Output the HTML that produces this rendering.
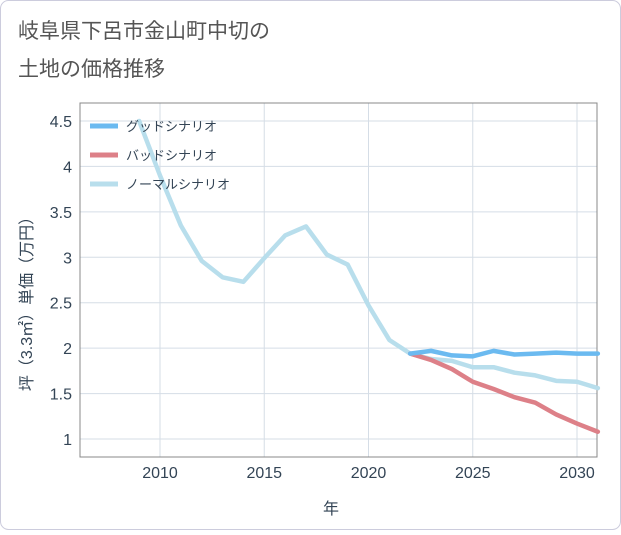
<!DOCTYPE html>
<html><head><meta charset="utf-8"><style>
body{margin:0;background:#fff;}
#c{position:relative;width:621px;height:530px;font-family:"Liberation Sans","Noto Sans CJK JP",sans-serif;}
</style></head><body>
<div id="c">
<svg id="s" width="621" height="530" xmlns="http://www.w3.org/2000/svg">
<rect x="0.5" y="0.5" width="620" height="529" rx="8" fill="#fff" stroke="#ccd"/>
<text x="18" y="38" font-size="21" fill="#555">岐阜県下呂市金山町中切の</text>
<text x="18" y="76" font-size="21" fill="#555">土地の価格推移</text>
<g id="grid"></g>
<rect x="80" y="103" width="517" height="354" fill="none" stroke="#888"/>
<g id="marks"></g>
<g id="legend"></g>
<text x="331" y="514" font-size="16" fill="#345" text-anchor="middle">年</text>
<text transform="translate(32,300) rotate(-90)" font-size="16" fill="#345" text-anchor="middle">坪（3.3㎡）単価（万円）</text>
</svg></div>
<script>
const years=[2009,2010,2011,2012,2013,2014,2015,2016,2017,2018,2019,2020,2021,2022,2023,2024,2025,2026,2027,2028,2029,2030,2031];
const normal=[4.5,3.9,3.35,2.96,2.78,2.73,2.99,3.24,3.34,3.03,2.92,2.47,2.09,1.94,1.88,1.86,1.79,1.79,1.73,1.70,1.64,1.63,1.56];
const futureYears=[2022,2023,2024,2025,2026,2027,2028,2029,2030,2031];
const good=[1.94,1.97,1.92,1.91,1.97,1.93,1.94,1.95,1.94,1.94];
const bad=[1.94,1.87,1.77,1.63,1.55,1.46,1.40,1.27,1.17,1.08];
const xTicks=[2010,2015,2020,2025,2030];
const yTicks=[1,1.5,2,2.5,3,3.5,4,4.5];
const yLabels=["1","1.5","2","2.5","3","3.5","4","4.5"];
const legendNames=["グッドシナリオ","バッドシナリオ","ノーマルシナリオ"];
const NS="http://www.w3.org/2000/svg";
const X=v=>160+(v-2010)*20.85;
const Y=v=>439-(v-1)*90.86;
const grid=document.getElementById('grid'),marks=document.getElementById('marks'),leg=document.getElementById('legend');
function mk(t,a,p){const e=document.createElementNS(NS,t);for(const k in a)e.setAttribute(k,a[k]);p.appendChild(e);return e;}
xTicks.forEach(t=>{
 const l=mk('line',{x1:X(t),x2:X(t),y1:103,y2:457,stroke:'#d5dde6'},grid);
 
 
 const tx=mk('text',{x:X(t),y:478,'font-size':16,fill:'#345','text-anchor':'middle'},grid);tx.textContent=t;
 
 
});
yTicks.forEach((t,i)=>{
 const l=mk('line',{x1:80,x2:597,y1:Y(t),y2:Y(t),stroke:'#d5dde6'},grid);
 
 
 const tx=mk('text',{x:72,y:Y(t)+6,'font-size':16,fill:'#345','text-anchor':'end'},grid);tx.textContent=yLabels[i];
 
 
});
function line(xs,vs,c,name){
 const p=mk('polyline',{points:xs.map((x,i)=>X(x)+','+Y(vs[i])).join(' '),fill:'none',stroke:c,'stroke-width':4.5,'stroke-linejoin':'round','stroke-linecap':'round'},marks);
 
 
}
line(years,normal,'#b8deec','normal-line');
line(futureYears,bad,'#dd8088','bad-line');
line(futureYears,good,'#6bbaf0','good-line');
const lc=['#6bbaf0','#dd8088','#b8deec'];
legendNames.forEach((n,i)=>{
 const y=126+i*29;
 const r=mk('line',{x1:90,x2:118,y1:y,y2:y,stroke:lc[i],'stroke-width':5},leg);
 
 
 const t=mk('text',{x:126,y:y+5,'font-size':13,fill:'#345'},leg);t.textContent=n;
 
 
});
</script>
</body></html>
